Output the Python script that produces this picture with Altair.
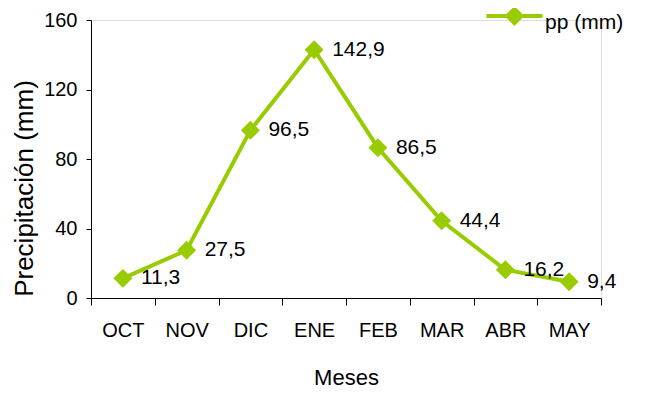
import altair as alt
import pandas as pd

meses = ["OCT", "NOV", "DIC", "ENE", "FEB", "MAR", "ABR", "MAY"]
pp = [11.3, 27.5, 96.5, 142.9, 86.5, 44.4, 16.2, 9.4]
serie = "pp (mm)"

df = pd.DataFrame({
    "mes": meses,
    "pp": pp,
    "serie": [serie] * len(meses),
    "label": [f"{v:.1f}".replace(".", ",") for v in pp],
})

GREEN = "#99cc00"
FONT = "Liberation Sans"
FS_TICK = 20
FS_LAB = 21
FS_TITLE = 22

x = alt.X(
    "mes:N", sort=meses, title="Meses",
    scale=alt.Scale(type="band", paddingInner=0, paddingOuter=0),
    bandPosition=0.5,
    axis=alt.Axis(labelAngle=0, tickBand="extent", grid=False, tickSize=7,
                  labelPadding=15, titlePadding=27, domainColor="black",
                  tickColor="black", labelColor="black", titleColor="black",
                  labelFontSize=FS_TICK, titleFontSize=FS_TITLE, labelFont=FONT,
                  titleFont=FONT, titleFontWeight="normal"),
)
y = alt.Y(
    "pp:Q", title="Precipitación (mm)",
    scale=alt.Scale(domain=[0, 160], nice=False),
    axis=alt.Axis(values=[0, 40, 80, 120, 160], grid=False, tickSize=5,
                  labelPadding=9, domainColor="black",
                  tickColor="black", labelColor="black", titleColor="black",
                  labelFontSize=FS_TICK, titleFontSize=26, labelFont=FONT,
                  titleFont=FONT, titleFontWeight="normal",
                  titleX=-67, titleY=168, titleAngle=270,
                  titleAlign="center", titleBaseline="middle"),
)

legend_path = "M-3.96,-0.92L3.96,-0.92M0,-1.92L1.0,-0.92L0,0.08L-1.0,-0.92Z"
color = alt.Color(
    "serie:N", scale=alt.Scale(range=[GREEN]),
    legend=alt.Legend(orient="none", legendX=413, legendY=-8, title=None,
                      padding=0, symbolType=legend_path, symbolSize=200,
                      symbolStrokeWidth=4, symbolFillColor=GREEN,
                      symbolStrokeColor=GREEN, labelOffset=20,
                      labelFontSize=FS_LAB, labelFont=FONT, labelColor="black"),
)

base = alt.Chart(df)
line = base.mark_line(strokeWidth=4).encode(x=x, y=y, color=color)
pts = base.mark_point(shape="diamond", filled=True, size=360, opacity=1).encode(
    x=x, y=y, color=alt.Color("serie:N", scale=alt.Scale(range=[GREEN]), legend=None))
txt = base.mark_text(align="left", baseline="middle", dx=18, dy=0,
                     fontSize=FS_LAB, font=FONT, color="black").encode(
    x=x, y=y, text="label:N")

chart = alt.layer(line, pts, txt).properties(
    width=510, height=278,
    autosize=alt.AutoSizeParams(type="none"),
    padding={"left": 83, "top": 12, "right": 46, "bottom": 94},
).configure_view(stroke=None).configure(font=FONT)

chart.save("out.html", embed_options={"renderer": "svg", "actions": False})
